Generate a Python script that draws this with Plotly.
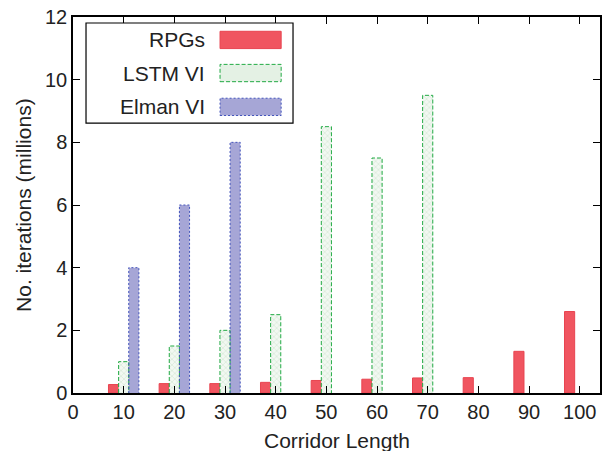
import plotly.graph_objects as go

lengths = [10, 20, 30, 40, 50, 60, 70, 80, 90, 100]
rpgs = [0.27, 0.30, 0.30, 0.34, 0.40, 0.44, 0.48, 0.49, 1.33, 2.6]
lstm_x = [10, 20, 30, 40, 50, 60, 70]
lstm_vi = [1.0, 1.5, 2.0, 2.5, 8.5, 7.5, 9.5]
elman_x = [10, 20, 30]
elman_vi = [4.0, 6.0, 8.0]
x_ticks = [0, 10, 20, 30, 40, 50, 60, 70, 80, 90, 100]
y_ticks = [0, 2, 4, 6, 8, 10, 12]
legend_names = ["RPGs", "LSTM VI", "Elman VI"]

BW = 2.0
RED = "#f05560"
RED_EDGE = "#e84450"
GREEN = "#22aa44"
GREEN_FILL = "#e4f1e4"
BLUE_FILL = "#a6a6d6"
BLUE_EDGE = "#4455bb"
GREEN_DASH = "4px,2px"
BLUE_DASH = "2px,2px"
FONT = "Liberation Sans"
TXT = "#222222"

fig = go.Figure()

fig.add_trace(go.Bar(x=[v - 2 for v in lengths], y=rpgs, width=BW,
                     marker=dict(color=RED, line=dict(color=RED_EDGE, width=1)),
                     name=legend_names[0], showlegend=False))
fig.add_trace(go.Bar(x=lstm_x, y=lstm_vi, width=BW,
                     marker=dict(color=GREEN_FILL, line=dict(width=0),
                                 pattern=dict(shape="x", fgcolor="#c9e3c9", bgcolor="#f2f8f2",
                                              size=4, solidity=0.4)),
                     name=legend_names[1], showlegend=False))
fig.add_trace(go.Bar(x=[v + 2 for v in elman_x], y=elman_vi, width=BW,
                     marker=dict(color=BLUE_FILL, line=dict(width=0)),
                     name=legend_names[2], showlegend=False))


def outline(xs, ys, offset):
    ox, oy = [], []
    for xc, v in zip(xs, ys):
        x0, x1 = xc + offset - BW / 2, xc + offset + BW / 2
        ox += [x0, x0, x1, x1, None]
        oy += [0, v, v, 0, None]
    return ox, oy


ox, oy = outline(lstm_x, lstm_vi, 0)
fig.add_trace(go.Scatter(x=ox, y=oy, mode="lines", line=dict(color=GREEN, width=1, dash=GREEN_DASH),
                         showlegend=False, hoverinfo="skip"))
ox, oy = outline(elman_x, elman_vi, 2)
fig.add_trace(go.Scatter(x=ox, y=oy, mode="lines", line=dict(color=BLUE_EDGE, width=1, dash=BLUE_DASH),
                         showlegend=False, hoverinfo="skip"))

# manual legend (text on the left, sample on the right, as in the original)
shapes = [dict(type="rect", xref="paper", yref="paper", x0=0.0247, x1=0.4175, y0=0.718, y1=0.984,
               line=dict(color="black", width=1.2), fillcolor="white", layer="above")]
samples = [
    (0.939, RED, RED_EDGE, "solid"),
    (0.851, GREEN_FILL, GREEN, GREEN_DASH),
    (0.761, BLUE_FILL, BLUE_EDGE, BLUE_DASH),
]
annotations = []
for name, (yc, fc, lc, dash) in zip(legend_names, samples):
    shapes.append(dict(type="rect", xref="paper", yref="paper", x0=0.279, x1=0.395,
                       y0=yc - 0.023, y1=yc + 0.023, fillcolor=fc,
                       line=dict(color=lc, width=1, dash=dash), layer="above"))
    annotations.append(dict(text=name, xref="paper", yref="paper", x=0.255, y=yc,
                            xanchor="right", yanchor="middle", showarrow=False,
                            font=dict(family=FONT, size=21, color=TXT)))

# axis titles as annotations in fixed positions
annotations.append(dict(text="Corridor Length", xref="paper", yref="paper", x=0.5, y=-0.125,
                        xanchor="center", yanchor="middle", showarrow=False,
                        font=dict(family=FONT, size=21, color=TXT)))
annotations.append(dict(text="No. iterations (millions)", xref="paper", yref="paper", x=-0.095,
                        y=0.5, xanchor="center", yanchor="middle", showarrow=False, textangle=-90,
                        font=dict(family=FONT, size=21, color=TXT)))

fig.update_layout(
    width=605, height=451,
    margin=dict(l=73, r=5, t=17, b=58, autoexpand=False),
    plot_bgcolor="white", paper_bgcolor="white",
    barmode="overlay",
    shapes=shapes, annotations=annotations,
    showlegend=False,
    font=dict(family=FONT, size=20, color=TXT),
)
fig.update_xaxes(range=[0, 104], tickvals=x_ticks, ticks="inside", ticklen=7, tickcolor="black",
                 showline=True, linecolor="black", linewidth=1.5, mirror="ticks", showgrid=False,
                 zeroline=False, automargin=False, tickfont=dict(size=20))
fig.update_yaxes(range=[0, 12], tickvals=y_ticks, ticks="inside", ticklen=7, tickcolor="black",
                 showline=True, linecolor="black", linewidth=1.5, mirror="ticks", showgrid=False,
                 zeroline=False, automargin=False, tickfont=dict(size=20))

fig.write_html("out.html", config={"displayModeBar": False},
               post_script="document.body.style.margin='0';document.body.style.overflow='hidden';")
